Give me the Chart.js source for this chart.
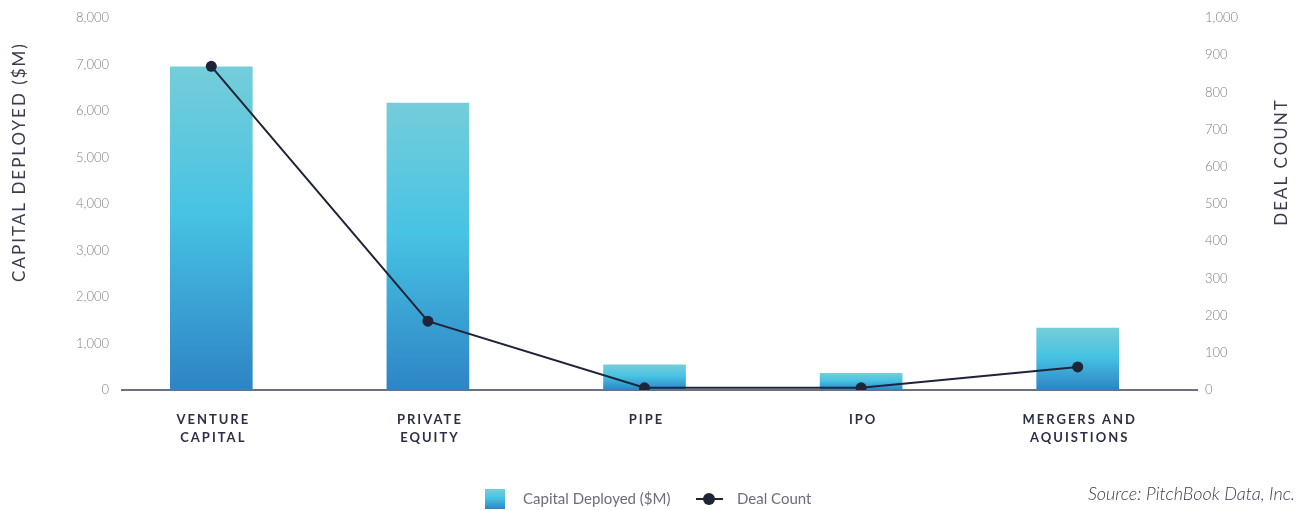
<!DOCTYPE html>
<html>
<head>
<meta charset="utf-8">
<script src="https://cdn.jsdelivr.net/npm/chart.js@4.4.0/dist/chart.umd.min.js"></script>
<style>
  html, body { margin: 0; padding: 0; background: #fff; }
  #wrap { width: 1301px; height: 510px; }
</style>
</head>
<body>
<div id="wrap"><canvas id="dealChart" width="1301" height="510"></canvas></div>
<script>
const categories = [['VENTURE', 'CAPITAL'], ['PRIVATE', 'EQUITY'], ['PIPE'], ['IPO'], ['MERGERS AND', 'AQUISTIONS']];
const capitalDeployed = [6950, 6170, 540, 360, 1330];
const dealCount = [870, 185, 6, 6, 62];

const leftTitle = 'CAPITAL DEPLOYED ($M)';
const rightTitle = 'DEAL COUNT';
const barLabel = 'Capital Deployed ($M)';
const lineLabel = 'Deal Count';
const sourceNote = 'Source: PitchBook Data, Inc.';

const lineColor = '#1f2439';
const tickColor = '#7e808c';

// teal on top fading into blue at the base, one gradient per bar
const barGradient = (ctx, top, bottom) => {
    const g = ctx.createLinearGradient(0, top, 0, bottom);
    g.addColorStop(0, '#75cdd9');
    g.addColorStop(0.45, '#47c3e3');
    g.addColorStop(1, '#2e84c5');
    return g;
};

const baseline = {
    id: 'baseline',
    beforeDatasetsDraw(chart) {
        const { ctx, chartArea } = chart;
        ctx.save();
        ctx.strokeStyle = '#3b4057';
        ctx.lineWidth = 1.5;
        ctx.beginPath();
        ctx.moveTo(chartArea.left + 18, chartArea.bottom);
        ctx.lineTo(chartArea.right + 12, chartArea.bottom);
        ctx.stroke();
        ctx.restore();
    }
};

const decorations = {
    id: 'decorations',
    afterDraw(chart) {
        const { ctx, chartArea, scales } = chart;
        ctx.save();

        // value labels on both sides
        ctx.font = '300 13px Lato';
        ctx.fillStyle = tickColor;
        ctx.textBaseline = 'middle';
        ctx.textAlign = 'right';
        scales.y.ticks.forEach(t => {
            ctx.fillText(t.value.toLocaleString('en-US'), chartArea.left + 6, scales.y.getPixelForValue(t.value));
        });
        ctx.textAlign = 'left';
        scales.y1.ticks.forEach(t => {
            ctx.fillText(t.value.toLocaleString('en-US'), chartArea.right + 19, scales.y1.getPixelForValue(t.value));
        });

        // category labels, spaced caps under each bar
        ctx.font = 'bold 13px Lato';
        ctx.letterSpacing = '2px';
        ctx.fillStyle = '#2c3047';
        ctx.textAlign = 'center';
        categories.forEach((lines, i) => {
            const x = scales.x.getPixelForValue(i) + 2;
            lines.forEach((line, j) => {
                ctx.fillText(line, x, chartArea.bottom + 30 + j * 18);
            });
        });

        // axis titles
        ctx.font = '17px Lato';
        ctx.fillStyle = '#3a3d4d';
        const titleY = chartArea.top + 144;
        [[leftTitle, 20], [rightTitle, 1282]].forEach(([text, x]) => {
            ctx.save();
            ctx.translate(x, titleY);
            ctx.rotate(-Math.PI / 2);
            ctx.fillText(text, 0, 0);
            ctx.restore();
        });
        ctx.letterSpacing = '0px';

        // legend
        const ly = 499;
        ctx.fillStyle = barGradient(ctx, ly - 10, ly + 10);
        ctx.fillRect(485, ly - 10, 20, 20);
        ctx.font = '15px Lato';
        ctx.fillStyle = '#6b6d7a';
        ctx.textAlign = 'left';
        ctx.fillText(barLabel, 523, ly);

        ctx.strokeStyle = lineColor;
        ctx.lineWidth = 2;
        ctx.beginPath();
        ctx.moveTo(696, ly);
        ctx.lineTo(723, ly);
        ctx.stroke();
        ctx.fillStyle = lineColor;
        ctx.beginPath();
        ctx.arc(709, ly, 6, 0, Math.PI * 2);
        ctx.fill();
        ctx.fillStyle = '#6b6d7a';
        ctx.fillText(lineLabel, 737, ly);

        // source note
        ctx.font = 'italic 300 18px Lato';
        ctx.fillStyle = '#3c4053';
        ctx.textAlign = 'right';
        ctx.fillText(sourceNote, 1295, 494);

        ctx.restore();
    }
};

const ctx = document.getElementById('dealChart').getContext('2d');
new Chart(ctx, {
    type: 'bar',
    data: {
        labels: categories.map(c => c.join(' ')),
        datasets: [{
            type: 'line',
            label: lineLabel,
            data: dealCount,
            yAxisID: 'y1',
            borderColor: lineColor,
            backgroundColor: lineColor,
            borderWidth: 2,
            pointRadius: 5.5,
            pointBackgroundColor: lineColor,
            pointBorderWidth: 0,
            tension: 0,
            order: 0
        }, {
            type: 'bar',
            label: barLabel,
            data: capitalDeployed,
            yAxisID: 'y',
            barThickness: 82,
            backgroundColor: (c) => {
                const chart = c.chart;
                if (!chart.chartArea || c.raw === undefined) return '#47c3e3';
                const y = chart.scales.y;
                return barGradient(chart.ctx, y.getPixelForValue(c.raw), y.getPixelForValue(0));
            },
            order: 1
        }]
    },
    options: {
        responsive: false,
        animation: false,
        layout: { padding: { top: 18, left: 0, right: 0, bottom: 0 } },
        plugins: {
            legend: { display: false },
            tooltip: { enabled: false }
        },
        scales: {
            x: {
                ticks: { display: false },
                grid: { display: false, drawTicks: false },
                border: { display: false },
                afterFit: s => { s.height = 120; }
            },
            y: {
                position: 'left',
                min: 0,
                max: 8000,
                ticks: { stepSize: 1000, display: false },
                grid: { display: false, drawTicks: false },
                border: { display: false },
                afterFit: s => { s.width = 103; }
            },
            y1: {
                position: 'right',
                min: 0,
                max: 1000,
                ticks: { stepSize: 100, display: false },
                grid: { display: false, drawTicks: false },
                border: { display: false },
                afterFit: s => { s.width = 115; }
            }
        }
    },
    plugins: [baseline, decorations]
});
</script>
</body>
</html>
